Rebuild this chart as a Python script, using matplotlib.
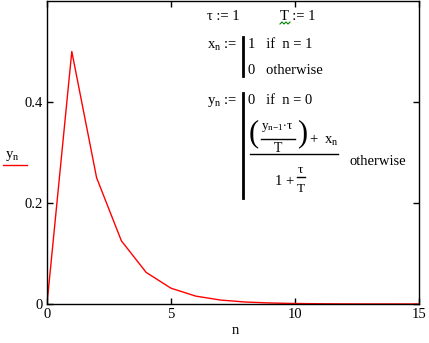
import matplotlib.pyplot as plt
from matplotlib.lines import Line2D

# values
n = [0, 1, 2, 3, 4, 5, 6, 7, 8, 9, 10, 11, 12, 13, 14, 15]
y = [0, 0.5, 0.25, 0.125, 0.0625, 0.03125, 0.0156, 0.0078, 0.0039, 0.002,
     0.001, 0.0005, 0.0002, 0.0001, 0.0001, 0.0]
xticks = [0, 5, 10, 15]
xticklabels = ['0', '5', '10', '15']
yticks = [0, 0.2, 0.4]
yticklabels = ['0', '0.2', '0.4']

plt.rcParams['font.family'] = ['Liberation Serif', 'DejaVu Serif']
plt.rcParams['mathtext.fontset'] = 'custom'
plt.rcParams['mathtext.rm'] = 'Liberation Serif'
plt.rcParams['mathtext.it'] = 'Liberation Serif'
plt.rcParams['mathtext.bf'] = 'Liberation Serif:bold'

W, H = 429, 343
fig = plt.figure(figsize=(W / 100, H / 100), dpi=100)
ax = fig.add_axes([47 / W, 1 - 304 / H, 372 / W, 303 / H])

ax.plot(n, y, color='red', lw=1)
ax.set_xlim(0, 15)
ax.set_ylim(0, 0.6)
ax.set_xticks(xticks)
ax.set_xticklabels(xticklabels)
ax.set_yticks(yticks)
ax.set_yticklabels(yticklabels)
ax.tick_params(direction='in', length=4, width=1, labelsize=10.5, pad=3,
               top=True, right=True, colors='black')
for s in ax.spines.values():
    s.set_linewidth(1)


def px(x, yy):
    return x / W, 1 - yy / H


def t(x, yy, s, size=10.5, ha='left'):
    fig.text(*px(x, yy), s, fontsize=size, va='center', ha=ha)


def line(xs, ys, lw=1, color='black'):
    fig.add_artist(Line2D([v / W for v in xs], [1 - v / H for v in ys],
                          transform=fig.transFigure, lw=lw, color=color))


# axis labels
t(235, 331, 'n', ha='center')
t(5, 156, r'$y_n$')
line([3, 27], [165, 165], color='red')

# definitions block
t(207, 17, '\u03c4 := 1')
t(280, 17, 'T := 1')
# green squiggle under T
line([280, 282, 284, 286, 288, 290], [24, 22, 24, 22, 24, 22], lw=0.8, color='green')

t(207, 46, r'$x_n$ :=')
line([243, 243], [37, 76], lw=2)
t(248, 45, '1   if  n = 1')
t(248, 70, '0   otherwise')

t(207, 102, r'$y_n$ :=')
line([243, 243], [93, 198], lw=2)
t(248, 101, '0   if  n = 0')
t(249, 134, '(', size=22)
t(297, 134, ')', size=22)
t(261, 127, r'$y_{n{-}1}{\cdot}\tau$', size=9.5)
line([261, 295], [139, 139])
t(274, 148, 'T', size=10)
t(309, 140, r'+  $x_n$')
line([250, 338], [154, 154])
t(275, 181, '1 +')
t(298, 170, '\u03c4', size=9.5)
line([297, 305], [177, 177])
t(297, 189, 'T', size=9.5)
t(349, 162, 'otherwise')

fig.savefig('out.png', dpi=100)
